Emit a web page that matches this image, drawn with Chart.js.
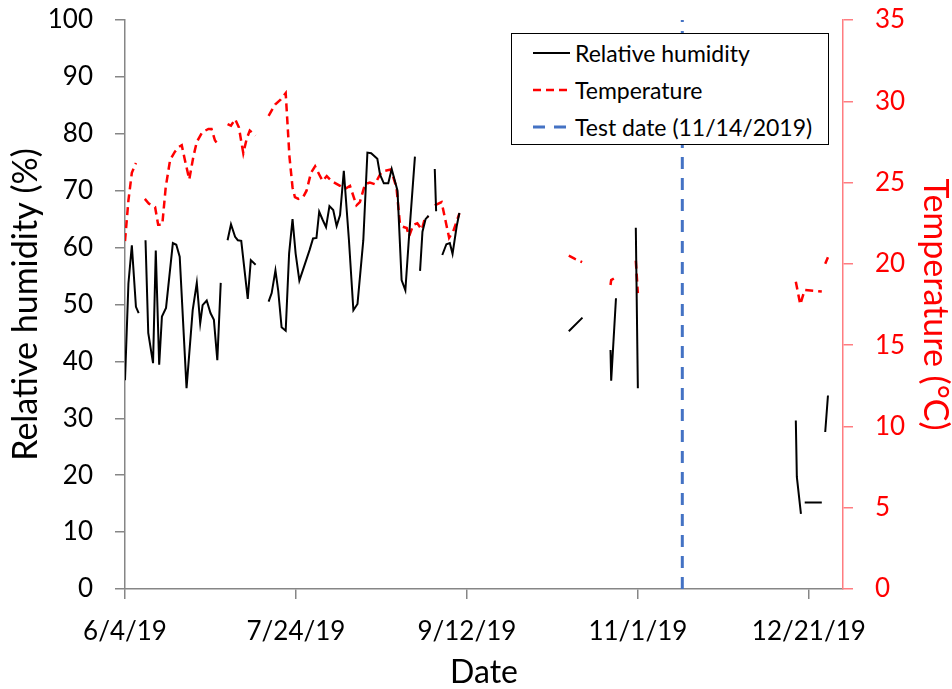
<!DOCTYPE html>
<html>
<head>
<meta charset="utf-8">
<title>Relative humidity and temperature</title>
<script src="https://cdn.jsdelivr.net/npm/chart.js@4.4.0/dist/chart.umd.min.js"></script>
<style>
  body { margin: 0; background: #fff; }
  #wrap { position: relative; width: 952px; height: 689px; }
  #legend {
    position: absolute; left: 511px; top: 33px; width: 318px; height: 112px;
    box-sizing: border-box; border: 1px solid #000; background: #fff;
    font-family: Lato, sans-serif; font-size: 23px; color: #000;
  }
  #legend .row { position: absolute; left: 21px; height: 26px; display: flex; align-items: center; }
  #legend svg { margin-right: 5px; }
</style>
</head>
<body>
<div id="wrap">
  <canvas id="chart" width="952" height="689"></canvas>
  <div id="legend"></div>
</div>
<script>
/* ============================
   Donnees (jours depuis 6/4/19)
   ============================ */
const startYear = 2019, startMonth = 5, startDay = 4;
const xTickDays = [0, 50, 100, 150, 200];
const xMaxDay = 210;
const testDay = 163; // 11/14/2019

const rhDays = [
  0, 1, 2, 3.2, 4, 5,
  6, 6.8, 8.2, 9, 10, 10.8, 12, 14, 15, 16, 18, 19.8, 21, 22, 22.7, 23.9, 25, 26, 27, 28, 29,
  30, 31, 32.2, 33, 34, 35.9, 36.8, 38.2, 40,
  42, 42.9, 44, 44.8, 45.8, 47, 48, 49, 49.9, 51, 52, 53, 54, 55, 56, 56.8, 57.8, 58.8, 59.8,
  60.9, 61.9, 62.9, 64, 65.5, 66.8, 68, 69.7, 70.9, 72, 73.8, 74.6, 75.7, 77, 78, 79.7, 80.9,
  82, 83, 84.8, 85.5,
  86.3, 87, 87.9, 88.8, 89.7,
  90.6, 91, 92,
  92.8, 94, 95, 95.8, 97, 97.8, 110,
  129.8, 133.8, 138,
  142, 142.2, 143.6, 146,
  149.4, 150, 170,
  196.2, 196.5, 197.7, 198.2,
  198.8, 203.8, 204.3,
  204.8, 205.6
];
const rhValues = [
  36.7, 53.7, 60.4, 49.6, 48.5, null,
  61.3, 45, 39.7, 59.5, 39.4, 47.9, 49.4, 60.8, 60.5, 58.4, 35.3, 49, 53.8, 46.7, 49.9, 50.7, 48.5, 47.3, 40.2, 53.8, null,
  61.3, 64.1, 61.9, 61.3, 61.2, 51, 57.8, 57, null,
  50.5, 52, 56, 52.5, 46, 45.4, 59, 65, 59, 54.2, 56, 57.8, 59.6, 61.6, 61.7, 66.3, 64.9, 63.6, 67.3,
  66.6, 63.8, 65.7, 73.5, 61.3, 49, 50.1, 61.3, 76.7, 76.6, 75.6, 72.8, 71.3, 71.3, 73.8, 70, 54.3,
  52.5, 61.3, 76, null,
  55.9, 62.8, 65, 65.6, null,
  73.8, 66.4, null,
  58.7, 60.6, 60.8, 58.9, 63.7, 66.1, null,
  45.3, 47.7, null,
  42, 36.6, 51.1, null,
  63.5, 35.3, null,
  29.6, 19.7, 13.2, null,
  15.2, 15.2, null,
  27.6, 34
];

const tempDays = [
  0, 1, 2, 3.2, 4.5,
  5.8, 7, 8.8, 9.7, 10.9, 11.9, 13.2, 14.6, 15.8, 16.6, 17.5, 18.8, 20, 21, 22.6, 24.4, 25.3, 26.3, 27, 28.5,
  30, 31, 32.2, 33.3, 34.6, 35.6, 36.5, 38.2, 40,
  42, 43.9, 45.5, 47, 48.1, 49, 49.7, 50.7, 52.1, 53.1, 54.4, 55.6, 56.8, 57.8, 59, 60.4, 62.9, 64.3,
  65.8, 67.7, 68.7, 70.2, 71.6, 73.1, 74.6, 75.5, 77.7, 78.5, 79.4, 80.4, 81, 82.4, 83.1, 84.3, 85.5,
  86.8, 87.7, 88.7, 89.6,
  90.6, 92.6, 93.9, 94.8, 96, 97.8, 110,
  129.8, 131.6, 133.7, 138,
  142, 142.2, 143.8, 146,
  149.4, 150, 170,
  196.2, 197.5, 198.8, 203.8, 204.3,
  204.8, 205.6
];
const tempValues = [
  21.4, 23.9, 25.6, 26.2, null,
  24.0, 23.7, 23.5, 22.4, 22.4, 24.7, 26.4, 26.9, 27.2, 27.3, 26.4, 25.2, 26.6, 27.5, 28.1, 28.3, 28.3, 27.6, 27.4, null,
  28.6, 28.5, 28.9, 28.4, 26.8, 27.7, 28.2, 27.9, null,
  29.1, 29.8, 30.1, 30.5, 26.6, 24.7, 24.1, 24.0, 24.1, 24.5, 25.6, 26.0, 25.5, 25.1, 25.4, 25.1, 24.8, 24.6,
  24.8, 23.6, 23.8, 24.9, 25.0, 24.9, 25.5, 25.7, 25.8, 25.3, 24.7, 22.5, 22.3, 22.2, 21.7, 22.4, 22.5,
  22.1, 22.8, 22.9, null,
  23.6, 23.8, 22.5, 21.6, 22.0, 23.1, null,
  20.5, 20.3, 20.1, null,
  18.7, 19.0, 19.2, null,
  20.2, 18.2, null,
  18.9, 17.5, 18.4, 18.3, null,
  20.0, 20.4
];

const rhTicks = { min: 0, max: 100, step: 10 };
const tempTicks = { min: 0, max: 35, step: 5 };

/* ============================
   Helpers
   ============================ */
function dayLabel(d) {
  const dt = new Date(startYear, startMonth, startDay + d);
  return `${dt.getMonth() + 1}/${dt.getDate()}/${String(dt.getFullYear()).slice(2)}`;
}

function toPoints(xs, ys) {
  return xs.map((x, i) => ({ x: x, y: ys[i] }));
}

// fixe la taille des axes pour caler la zone du graphique
function fixBox(size, horizontal) {
  return (scale) => {
    if (horizontal) scale.height = size; else scale.width = size;
    scale.paddingTop = 0;
    scale.paddingBottom = 0;
    scale.paddingLeft = 0;
    scale.paddingRight = 0;
  };
}

const FONT = 'Lato, sans-serif';
const AXIS_GREY = '#868686';
const AXIS_RED = '#ff7c80';

/* ============================
   Chart
   ============================ */
const datasets = [
  {
    label: 'Relative humidity',
    data: toPoints(rhDays, rhValues),
    borderColor: '#000000',
    borderWidth: 2,
    pointRadius: 0,
    yAxisID: 'y',
    legendDash: []
  },
  {
    label: 'Temperature',
    data: toPoints(tempDays, tempValues),
    borderColor: '#ff0000',
    borderWidth: 2.5,
    borderDash: [8, 5],
    pointRadius: 0,
    yAxisID: 'y1',
    legendDash: [8, 5]
  },
  {
    label: 'Test date (11/14/2019)',
    data: [{ x: testDay, y: rhTicks.min }, { x: testDay, y: rhTicks.max }],
    borderColor: '#4472c4',
    borderWidth: 3,
    borderDash: [12, 9],
    pointRadius: 0,
    yAxisID: 'y',
    legendDash: [12, 9]
  }
];

const chart = new Chart(document.getElementById('chart'), {
  type: 'line',
  data: { datasets: datasets },
  options: {
    responsive: false,
    animation: false,
    layout: { padding: { top: 20, left: 0, right: 0, bottom: 0 } },
    plugins: { legend: { display: false }, tooltip: { enabled: false } },
    scales: {
      x: {
        type: 'linear',
        min: 0,
        max: xMaxDay,
        afterBuildTicks: (scale) => { scale.ticks = xTickDays.map(v => ({ value: v })); },
        afterFit: fixBox(100, true),
        ticks: {
          callback: (v) => dayLabel(v),
          font: { family: FONT, size: 26 },
          color: '#000',
          padding: 17,
          maxRotation: 0,
          autoSkip: false
        },
        grid: { drawOnChartArea: false, drawTicks: true, tickLength: 10, color: AXIS_GREY, lineWidth: 1.5 },
        border: { color: AXIS_GREY, width: 1.5 },
        title: { display: true, text: 'Date', font: { family: FONT, size: 32, lineHeight: 1 }, color: '#000', padding: 0 }
      },
      y: {
        position: 'left',
        min: rhTicks.min,
        max: rhTicks.max,
        afterFit: fixBox(125, false),
        ticks: { stepSize: rhTicks.step, font: { family: FONT, size: 26 }, color: '#000', padding: 22 },
        grid: { drawOnChartArea: false, drawTicks: true, tickLength: 10, color: AXIS_GREY, lineWidth: 1.5 },
        border: { color: AXIS_GREY, width: 1.5 },
        title: { display: true, text: 'Relative humidity (%)', font: { family: FONT, size: 34, lineHeight: 1 }, color: '#000', padding: { top: 9, bottom: 0 } }
      },
      y1: {
        position: 'right',
        min: tempTicks.min,
        max: tempTicks.max,
        afterFit: fixBox(109, false),
        ticks: { stepSize: tempTicks.step, font: { family: FONT, size: 26 }, color: '#ff0000', padding: 22 },
        grid: { drawOnChartArea: false, drawTicks: true, tickLength: 10, color: AXIS_RED, lineWidth: 1.5 },
        border: { color: AXIS_RED, width: 1.5 },
        title: { display: true, text: 'Temperature (°C)', font: { family: FONT, size: 34, lineHeight: 1 }, color: '#ff0000', padding: { top: 0, bottom: 0 } }
      }
    }
  }
});

/* ============================
   Legende (HTML)
   ============================ */
function buildLegend() {
  const box = document.getElementById('legend');
  const rowTops = [6, 43, 80];
  chart.data.datasets.forEach((ds, i) => {
    const row = document.createElement('div');
    row.className = 'row';
    row.style.top = rowTops[i] + 'px';
    const dash = ds.legendDash.length ? `stroke-dasharray="${ds.legendDash.join(' ')}"` : '';
    row.innerHTML =
      `<svg width="37" height="6"><line x1="0" y1="3" x2="37" y2="3" stroke="${ds.borderColor}" stroke-width="${ds.borderWidth}" ${dash}/></svg>` +
      `<span>${ds.label}</span>`;
    box.appendChild(row);
  });
}

buildLegend();
</script>
</body>
</html>
